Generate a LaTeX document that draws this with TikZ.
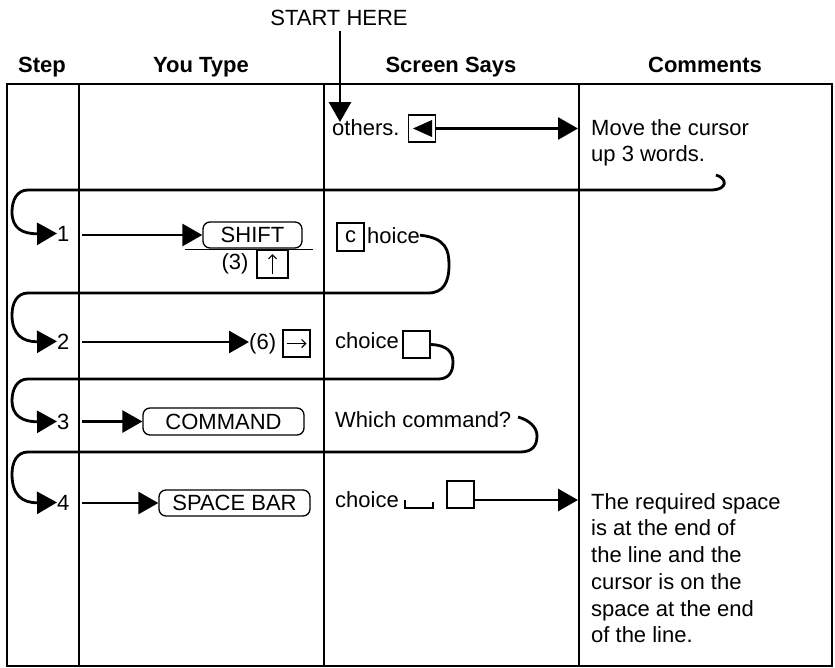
\documentclass[tikz,border=0pt]{standalone}
\usepackage{fontspec}
\setmainfont{Liberation Sans}
\usetikzlibrary{arrows.meta}
\newcommand{\txtfont}{\fontsize{22pt}{26.7pt}\selectfont}
\newcommand{\hdrfont}{\fontsize{22pt}{26pt}\selectfont\bfseries}
\tikzset{
  tbl/.style={line width=1.3pt},
  conn/.style={line width=2.8pt, -{Triangle[length=20pt,width=22pt]}},
  key/.style={draw, line width=1.3pt, rounded corners=7pt, inner sep=0pt, font=\txtfont},
  sq/.style={draw, line width=1.3pt, inner sep=0pt},
  txt/.style={inner sep=0pt, font=\txtfont, anchor=base west},
  hdr/.style={inner sep=0pt, font=\hdrfont, anchor=base},
  cmt/.style={inner sep=0pt, font=\txtfont, anchor=north west, align=left},
}
\begin{document}
\begin{tikzpicture}[x=1pt,y=-1pt]
\useasboundingbox (0,0) rectangle (835,667);
% table
\draw[tbl] (7,84) rectangle (832,666);
\draw[tbl] (79,84) -- (79,666);
\draw[tbl] (324,84) -- (324,666);
\draw[tbl] (579,84) -- (579,666);
% headers
\node[hdr] (hstep) at (42,72) {Step};
\node[hdr] (htype) at (201,72) {You Type};
\node[hdr] (hscreen) at (451,72) {Screen Says};
\node[hdr] (hcomm) at (705,72) {Comments};
% start
\node[inner sep=0pt, font=\txtfont, anchor=base] (start) at (339,25) {START HERE};
\coordinate (stip) at (340,122);
\draw[conn] (stip |- start.south) ++(0,6) -- (stip);
% row 0
\node[txt] (others) at (332,135) {others.};
\node[sq, minimum width=27pt, minimum height=27pt] (lbox) at (422,128.5) {};
\fill (lbox.center) ++(-9,0) -- ++(19,-8.5) -- ++(0,17) -- cycle;
\node[cmt] (cmt1) at (591,115) {\rule{0pt}{20pt}Move the cursor\\up 3 words.};
\coordinate (t0) at (578,128.5);
\draw[conn] (lbox.east) -- (t0);
% step numbers
\node[txt] (n1) at (57,241) {1};
\node[txt] (n2) at (57,349) {2};
\node[txt] (n3) at (57,429) {3};
\node[txt] (n4) at (57,510) {4};
% connector 0 -> 1
\coordinate (c0s) at (716,175);
\draw[conn] (c0s) .. controls (727,178) and (729,190) .. (710,190) -- (28,190)
  .. controls (17,190) and (12,200) .. (12,212) .. controls (12,228) and (22,234) .. (n1.west);
% row 1
\node[key, minimum width=99pt, minimum height=26pt] (kshift) at (252.5,235) {SHIFT};
\coordinate (s1) at (82,235);
\draw[conn] (s1) -- (kshift.west);
\draw[tbl] (185,249.5) -- (313,249.5);
\node[inner sep=0pt, font=\txtfont] (three) at (235,264) {(3)};
\node[sq, minimum width=31pt, minimum height=28pt] (ubox) at (272.5,264) {};
\draw[line width=1.2pt, -{Straight Barb[length=4pt,width=8pt]}] (ubox.center) ++(0,10) -- ++(0,-20);
\node[sq, minimum width=27pt, minimum height=28pt, font=\txtfont] (cbox) at (350.5,237) {c};
\node[txt] (hoice) at (367,243) {hoice};
\draw[conn] (hoice.east) .. controls (446,238) and (449,250) .. (449,265) .. controls (449,283) and (443,293) .. (428,293) -- (28,293)
  .. controls (17,293) and (12,303) .. (12,315) .. controls (12,334) and (22,342) .. (n2.west);
% row 2
\node[txt] (six) at (249,349) {(6)};
\coordinate (s2) at (82,342);
\draw[conn] (s2) -- (s2 -| six.west);
\node[sq, minimum width=27pt, minimum height=27pt] (rbox) at (296.5,343.5) {};
\draw[line width=1.2pt, -{Straight Barb[length=4pt,width=8pt]}] (rbox.center) ++(-10,0) -- ++(20,0);
\node[txt] (choice2) at (335,348) {choice};
\node[sq, minimum width=27pt, minimum height=27pt] (box2) at (416.5,344.5) {};
\draw[conn] (box2.east) .. controls (447,345) and (453,352) .. (453,362) .. controls (453,373) and (448,379) .. (438,379) -- (28,379)
  .. controls (17,379) and (12,389) .. (12,401) .. controls (12,415) and (22,422) .. (n3.west);
% row 3
\node[key, minimum width=161pt, minimum height=27pt] (kcmd) at (223.5,421.5) {COMMAND};
\coordinate (s3) at (82,421.5);
\draw[conn] (s3) -- (kcmd.west);
\node[txt] (which) at (335,427) {Which command?};
\coordinate (c3s) at (518,417);
\draw[conn] (c3s) .. controls (529,420) and (537,427) .. (537,436) .. controls (537,446) and (532,452) .. (520,452) -- (28,452)
  .. controls (17,452) and (12,462) .. (12,474) .. controls (12,495) and (22,503) .. (n4.west);
% row 4
\node[key, minimum width=151pt, minimum height=26pt] (kspace) at (234.5,503) {SPACE BAR};
\coordinate (s4) at (82,503);
\draw[conn] (s4) -- (kspace.west);
\node[txt] (choice4) at (335,507) {choice};
\draw[line width=1.4pt] (405,500) -- (405,508) -- (433,508) -- (433,502);
\node[sq, minimum width=27pt, minimum height=27pt] (box4) at (460.5,494.5) {};
\coordinate (b4e) at (474,500);
\coordinate (t4) at (578,500);
\draw[conn] (b4e) -- (t4);
\node[cmt] (cmt4) at (591,489) {\rule{0pt}{20pt}The required space\\is at the end of\\the line and the\\cursor is on the\\space at the end\\of the line.};
\end{tikzpicture}
\end{document}
